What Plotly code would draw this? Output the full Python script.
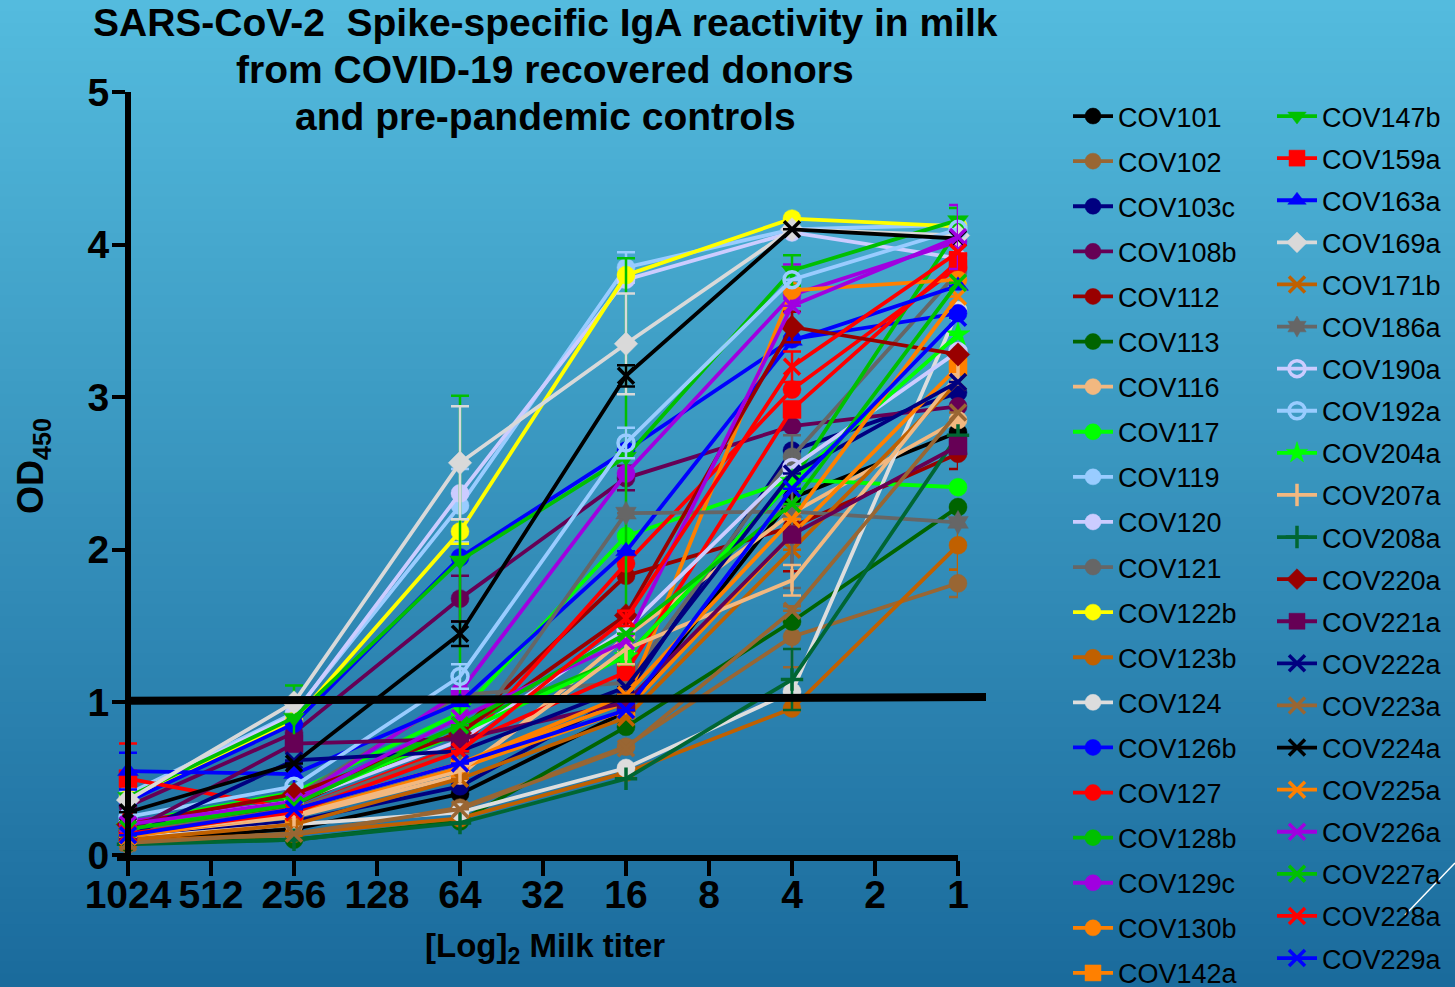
import math
import plotly.graph_objects as go

# ---------------- data ----------------
dilutions = [1024, 256, 64, 16, 4, 1]
tick_vals = [1024, 512, 256, 128, 64, 32, 16, 8, 4, 2, 1]
tick_text = ["1024", "512", "256", "128", "64", "32", "16", "8", "4", "2", "1"]
y_ticks = [0, 1, 2, 3, 4, 5]
cutoff = [1.01, 1.035]

donors = ["COV101", "COV102", "COV103c", "COV108b", "COV112", "COV113", "COV116",
          "COV117", "COV119", "COV120", "COV121", "COV122b", "COV123b", "COV124",
          "COV126b", "COV127", "COV128b", "COV129c", "COV130b", "COV142a",
          "COV147b", "COV159a", "COV163a", "COV169a", "COV171b", "COV186a",
          "COV190a", "COV192a", "COV204a", "COV207a", "COV208a", "COV220a",
          "COV221a", "COV222a", "COV223a", "COV224a", "COV225a", "COV226a",
          "COV227a", "COV228a", "COV229a"]

# OD450 per dilution, one value per donor (same order as donors)
od_1024 = [0.10, 0.07, 0.12, 0.32, 0.16, 0.08, 0.13, 0.21, 0.40, 0.38, 0.20, 0.37, 0.09, 0.11,
           0.35, 0.15, 0.19, 0.22, 0.14, 0.12, 0.38, 0.50, 0.55, 0.36, 0.10, 0.15, 0.20, 0.25,
           0.18, 0.14, 0.07, 0.20, 0.15, 0.12, 0.08, 0.28, 0.12, 0.20, 0.17, 0.14, 0.13]
od_256 = [0.17, 0.13, 0.22, 0.80, 0.33, 0.10, 0.25, 0.41, 0.93, 0.92, 0.38, 0.88, 0.14, 0.20,
          0.86, 0.30, 0.38, 0.35, 0.30, 0.27, 0.90, 0.30, 0.53, 1.00, 0.20, 0.30, 0.35, 0.45,
          0.35, 0.26, 0.10, 0.40, 0.73, 0.62, 0.14, 0.60, 0.30, 0.35, 0.33, 0.28, 0.30]
od_64 = [0.40, 0.31, 0.45, 1.68, 0.81, 0.22, 0.52, 0.93, 2.29, 2.37, 1.05, 2.12, 0.24, 0.28,
         1.95, 0.69, 0.85, 1.07, 0.60, 0.57, 1.93, 0.72, 1.00, 2.57, 0.50, 0.70, 0.75, 1.17,
         0.80, 0.55, 0.21, 0.80, 0.76, 0.68, 0.30, 1.45, 0.60, 0.90, 0.85, 0.68, 0.60]
od_16 = [0.94, 0.71, 1.05, 2.47, 1.83, 0.84, 1.43, 2.09, 3.85, 3.77, 1.13, 3.80, 0.54, 0.57,
         2.65, 1.91, 1.30, 2.50, 1.00, 0.95, 2.61, 1.20, 1.99, 3.35, 0.90, 2.24, 1.48, 2.70,
         1.30, 1.35, 0.50, 1.57, 1.00, 1.10, 0.70, 3.14, 1.05, 1.40, 1.45, 1.55, 0.95]
od_4 = [2.34, 1.43, 2.65, 2.81, 2.15, 1.53, 2.24, 2.46, 4.10, 4.08, 2.61, 4.17, 0.96, 1.07,
        3.38, 3.05, 2.45, 3.67, 3.70, 2.10, 3.83, 2.92, 3.37, 4.10, 2.00, 2.25, 2.54, 3.77,
        2.45, 1.80, 1.15, 3.46, 2.10, 2.50, 1.60, 4.10, 2.20, 3.60, 2.30, 3.20, 2.40]
od_1 = [2.77, 1.78, 3.03, 2.94, 2.63, 2.28, 2.85, 2.41, 4.13, 3.91, 3.82, 4.12, 2.03, 3.57,
        3.55, 3.85, 4.10, 4.02, 3.77, 3.20, 4.16, 3.89, 3.73, 4.06, 3.10, 2.18, 3.30, 4.10,
        3.41, 3.15, 2.75, 3.28, 2.68, 3.10, 2.90, 4.04, 3.66, 4.05, 3.75, 3.95, 3.52]

# standard deviations (0 = no visible bar)
sd_1024 = [0, 0, 0, 0, 0, 0, 0, 0, 0, 0, 0, 0, 0, 0, 0, 0, 0, 0, 0, 0,
           0.14, 0.23, 0.12, 0, 0, 0, 0, 0, 0, 0, 0, 0, 0, 0, 0, 0, 0, 0, 0, 0, 0]
sd_256 = [0, 0, 0, 0.10, 0, 0, 0, 0, 0, 0, 0, 0, 0, 0, 0, 0, 0, 0, 0, 0,
          0.21, 0, 0.08, 0, 0, 0, 0, 0, 0, 0, 0, 0, 0, 0, 0, 0, 0, 0, 0, 0, 0]
sd_64 = [0, 0, 0, 0.15, 0, 0, 0, 0, 0.24, 0, 0, 0.08, 0, 0, 0, 0, 0, 0, 0, 0,
         1.08, 0, 0, 0.37, 0, 0, 0, 0.08, 0, 0, 0, 0, 0, 0, 0, 0.08, 0, 0, 0, 0, 0]
sd_16 = [0, 0, 0, 0.08, 0, 0, 0.10, 0.12, 0.10, 0, 0, 0, 0, 0, 0, 0, 0, 0, 0, 0,
         1.30, 0, 0, 0.33, 0, 0, 0, 0.10, 0.05, 0.10, 0, 0, 0, 0, 0, 0.07, 0, 0, 0, 0.05, 0]
sd_4 = [0, 0.20, 0, 0, 0.29, 0, 0, 0, 0, 0, 0, 0, 0, 0, 0, 0, 0, 0.20, 0, 0,
        0.10, 0, 0, 0, 0, 0.50, 0, 0, 0, 0.10, 0.20, 0.10, 0, 0, 0, 0, 0, 0, 0, 0.10, 0]
sd_1 = [0, 0.09, 0, 0, 0.10, 0, 0, 0, 0, 0, 0, 0, 0.16, 0, 0, 0, 0, 0, 0, 0,
        0.08, 0, 0, 0, 0, 0, 0, 0, 0, 0, 0, 0, 0, 0, 0, 0, 0, 0.21, 0, 0, 0]

colors = ["#000000", "#996633", "#000080", "#660055", "#990000", "#006400", "#F2B880",
          "#00FF00", "#99CCFF", "#CCCCFF", "#666666", "#FFFF00", "#C06000", "#DDDDDD",
          "#0000FF", "#FF0000", "#00C000", "#A000E0", "#FF8000", "#FF8000",
          "#00C000", "#FF0000", "#0000FF", "#D9D9D9", "#C06000", "#666666",
          "#CCCCFF", "#99CCFF", "#00FF00", "#F2B880", "#006633", "#990000",
          "#660055", "#000080", "#996633", "#000000", "#FF8000", "#A000E0",
          "#00C000", "#FF0000", "#0000FF"]
symbols = ["circle"] * 19 + ["square",
           "triangle-down", "square", "triangle-up", "diamond", "x-thin-open", "hexagram",
           "circle-open", "circle-open", "star", "line-ns-open", "cross-thin-open", "diamond",
           "square", "x-thin-open", "x-thin-open", "x-thin-open", "x-thin-open",
           "x-thin-open", "x-thin-open", "x-thin-open", "x-thin-open"]

# ---------------- geometry helpers (pixel -> paper) ----------------
L, R, T, B = 117, 958, 92, 855
W, H = 1455, 987


def px_x(p):
    return (p - L) / (R - L)


def px_y(p):
    return (B - p) / (B - T)


FONT = "Arial, Liberation Sans, sans-serif"

fig = go.Figure()

columns = [od_1024, od_256, od_64, od_16, od_4, od_1]
sds = [sd_1024, sd_256, sd_64, sd_16, sd_4, sd_1]

for i, name in enumerate(donors):
    ys = [col[i] for col in columns]
    es = [s[i] for s in sds]
    sym = symbols[i]
    thin = sym.endswith("-open")
    fig.add_trace(go.Scatter(
        x=dilutions, y=ys, name=name, mode="lines+markers",
        line=dict(color=colors[i], width=3.8),
        marker=dict(symbol=sym, size=18 if not thin else 16, color=colors[i],
                    line=dict(color=colors[i], width=3.5 if thin else 0.5)),
        error_y=dict(type="data", array=es, visible=True, color=colors[i],
                     thickness=2.5, width=9),
        cliponaxis=False,
        legend="legend" if i < 20 else "legend2",
        legendgroup=name,
    ))

# background gradient (bands)
top = (84, 188, 222)
bot = (26, 106, 156)
n = 80
shapes = []
for k in range(n):
    f = (k + 0.5) / n
    c = tuple(int(round(top[j] + (bot[j] - top[j]) * f)) for j in range(3))
    y0p = k * H / n
    y1p = (k + 1) * H / n + 1
    shapes.append(dict(type="rect", xref="paper", yref="paper", layer="below",
                       x0=px_x(-2), x1=px_x(W + 2), y0=px_y(y1p), y1=px_y(y0p - 1),
                       fillcolor="rgb(%d,%d,%d)" % c, line=dict(width=0)))

# positivity cutoff line
shapes.append(dict(type="line", xref="paper", yref="y", layer="above",
                   x0=px_x(128), x1=px_x(986), y0=cutoff[0], y1=cutoff[1],
                   line=dict(color="black", width=8)))
# thin white stray line (bottom right)
shapes.append(dict(type="line", xref="paper", yref="paper", layer="above",
                   x0=px_x(1405), x1=px_x(1455), y0=px_y(915), y1=px_y(863),
                   line=dict(color="white", width=1.5)))

annotations = []
title_lines = [("SARS-CoV-2\u00a0 Spike-specific IgA reactivity in milk", 22),
               ("from COVID-19 recovered donors", 70),
               ("and pre-pandemic controls", 116)]
for txt, yy in title_lines:
    annotations.append(dict(text=txt, xref="paper", yref="paper", x=px_x(545), y=px_y(yy),
                            xanchor="center", yanchor="middle", showarrow=False,
                            font=dict(family=FONT, size=39, color="black", weight="bold")))
annotations.append(dict(text="[Log]<sub>2</sub> Milk titer", xref="paper", yref="paper",
                        x=px_x(545), y=px_y(948), xanchor="center", yanchor="middle",
                        showarrow=False,
                        font=dict(family=FONT, size=33, color="black", weight="bold")))
annotations.append(dict(text="OD<sub>450</sub>", xref="paper", yref="paper",
                        x=px_x(33), y=px_y(466), xanchor="center", yanchor="middle",
                        textangle=-90, showarrow=False,
                        font=dict(family=FONT, size=36, color="black", weight="bold")))

fig.update_layout(
    width=W, height=H, autosize=False,
    margin=dict(l=L, r=W - R, t=T, b=H - B, pad=0, autoexpand=False),
    paper_bgcolor="rgb(50,150,195)", plot_bgcolor="rgba(0,0,0,0)",
    font=dict(family=FONT, color="black"),
    shapes=shapes, annotations=annotations,
    xaxis=dict(type="log", range=[math.log10(1024) + 11 / 83 * math.log10(2), 0],
               domain=[0, 1], tickvals=tick_vals, ticktext=tick_text,
               showgrid=False, zeroline=False, showline=True, linecolor="black",
               linewidth=6, ticks="outside", ticklen=15, tickwidth=4, tickcolor="black",
               ticklabelstandoff=-15,
               tickfont=dict(family=FONT, size=39, color="black", weight="bold")),
    yaxis=dict(range=[0, 5], tickvals=y_ticks, anchor="free", position=px_x(128),
               showgrid=False, zeroline=False, showline=True, linecolor="black",
               linewidth=6, ticks="outside", ticklen=13, tickwidth=4, tickcolor="black",
               ticklabelstandoff=-5,
               tickfont=dict(family=FONT, size=39, color="black", weight="bold")),
    legend=dict(x=px_x(1068), y=px_y(92), xanchor="left", yanchor="top",
                bgcolor="rgba(0,0,0,0)", font=dict(family=FONT, size=27, color="black"),
                tracegroupgap=7, itemwidth=40, maxheight=1200),
    legend2=dict(x=px_x(1272), y=px_y(92), xanchor="left", yanchor="top",
                 bgcolor="rgba(0,0,0,0)", font=dict(family=FONT, size=27, color="black"),
                 tracegroupgap=4, itemwidth=40, maxheight=1200),
    showlegend=True,
)

fig.write_html("out.html", config={"displayModeBar": False},
               post_script="document.body.style.margin='0';")
